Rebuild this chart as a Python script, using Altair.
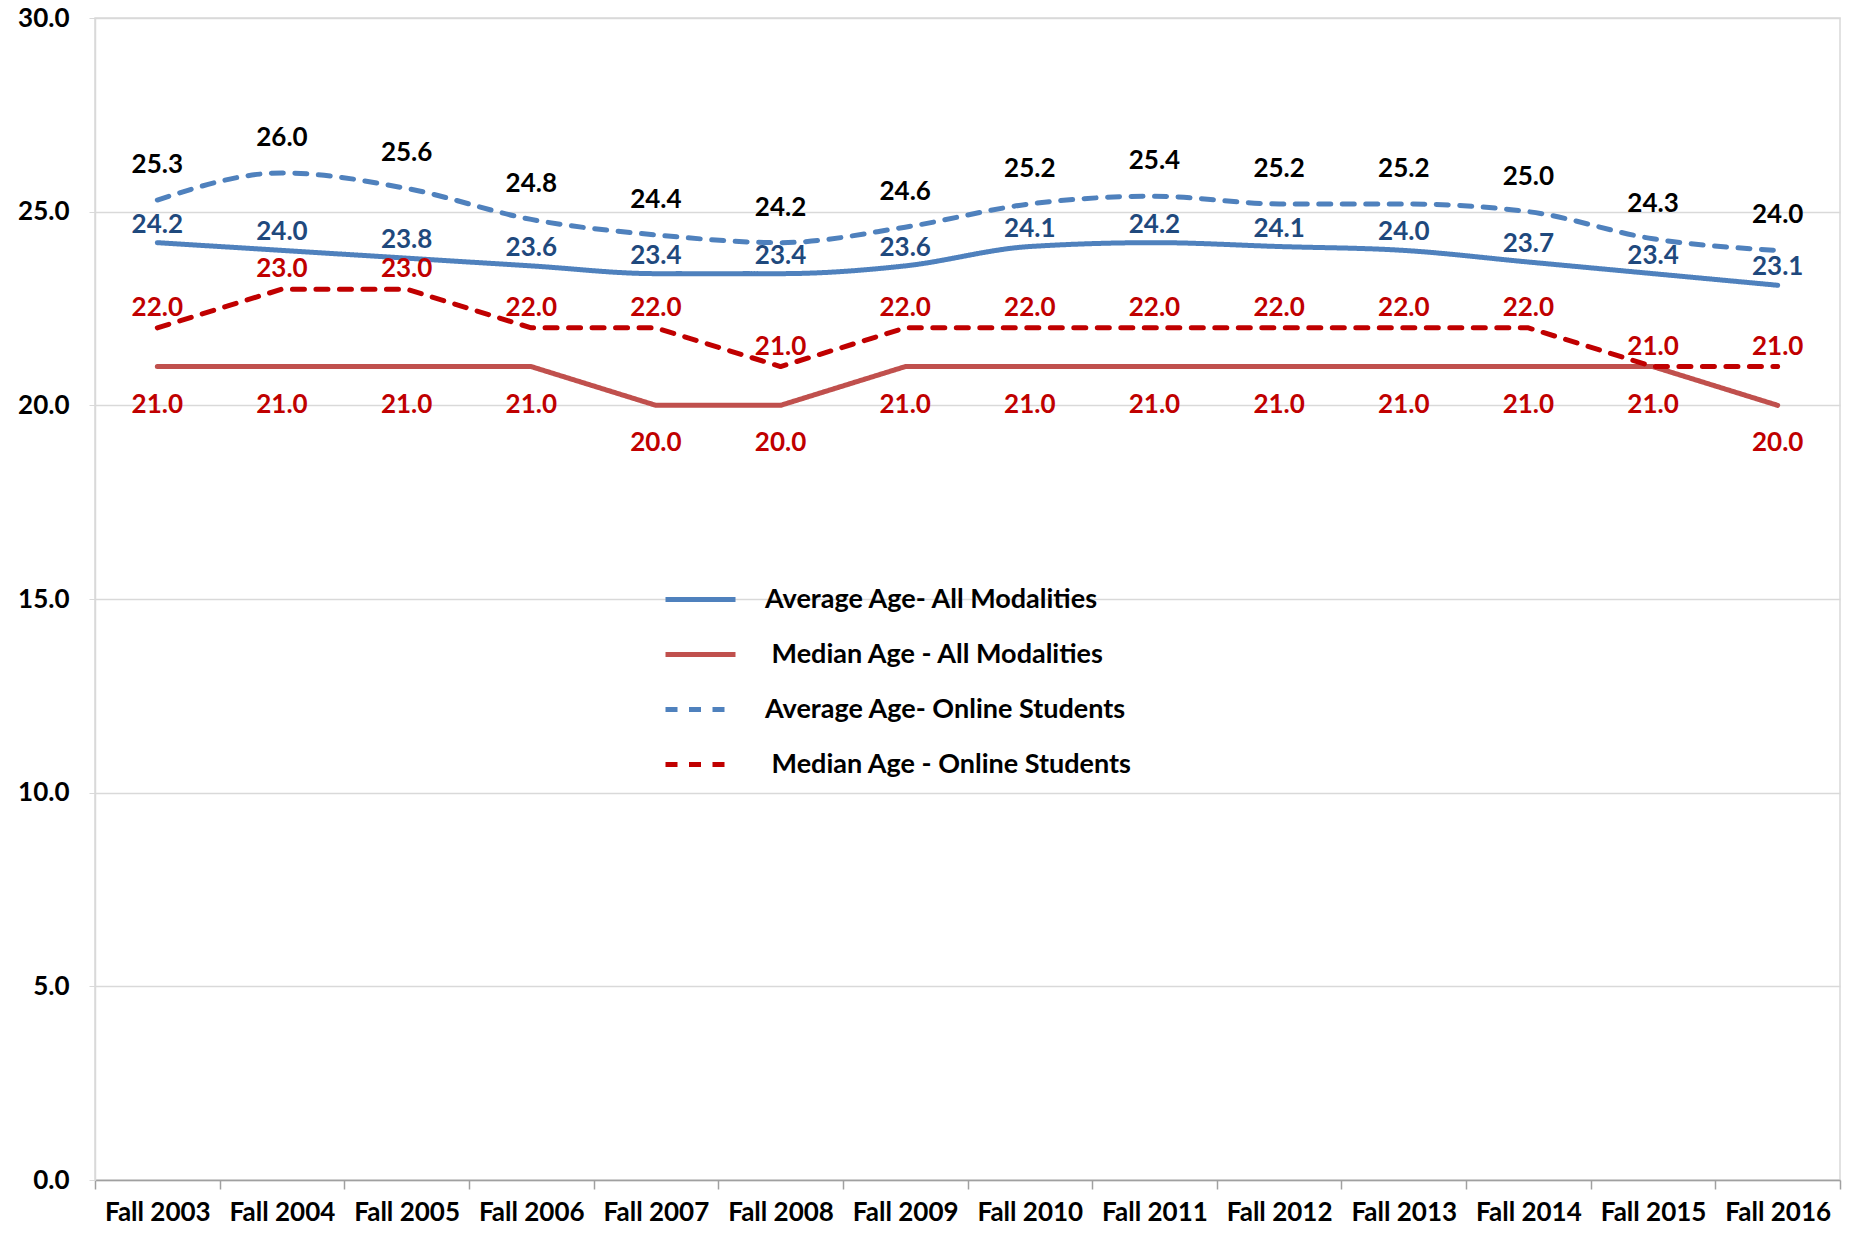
import altair as alt
import pandas as pd

terms = ["Fall 2003", "Fall 2004", "Fall 2005", "Fall 2006", "Fall 2007", "Fall 2008", "Fall 2009",
         "Fall 2010", "Fall 2011", "Fall 2012", "Fall 2013", "Fall 2014", "Fall 2015", "Fall 2016"]
avg_all = [24.2, 24.0, 23.8, 23.6, 23.4, 23.4, 23.6, 24.1, 24.2, 24.1, 24.0, 23.7, 23.4, 23.1]
median_all = [21.0, 21.0, 21.0, 21.0, 20.0, 20.0, 21.0, 21.0, 21.0, 21.0, 21.0, 21.0, 21.0, 20.0]
avg_online = [25.3, 26.0, 25.6, 24.8, 24.4, 24.2, 24.6, 25.2, 25.4, 25.2, 25.2, 25.0, 24.3, 24.0]
median_online = [22.0, 23.0, 23.0, 22.0, 22.0, 21.0, 22.0, 22.0, 22.0, 22.0, 22.0, 22.0, 21.0, 21.0]

series_names = ["Average Age- All Modalities", "\u200b\u00a0Median Age - All Modalities",
                "Average Age- Online Students", "\u200b\u00a0Median Age - Online Students"]
series_values = [avg_all, median_all, avg_online, median_online]

line_colors = ["#4F81BD", "#C0504D", "#4F81BD", "#C00000"]
dash_styles = [[1, 0], [1, 0], [12, 11.5], [12, 11.5]]
label_colors = ["#1F497D", "#C00000", "#000000", "#C00000"]
label_dy = [-18, 38, -35, -20]
smooth_series = [series_names[0], series_names[2]]

rows = []
for name, vals in zip(series_names, series_values):
    for t, v in zip(terms, vals):
        rows.append({"term": t, "series": name, "value": v})
df = pd.DataFrame(rows)

FONT = "Lato"
FS = 26

x_enc = alt.X("term:N", sort=terms,
              scale=alt.Scale(type="band", paddingInner=0, paddingOuter=0),
              axis=alt.Axis(title=None, labelAngle=0, tickBand="extent", domainColor="#A0A0A0",
                            domainWidth=1.5, tickColor="#A0A0A0", tickWidth=1.5, tickSize=9,
                            labelPadding=10, labelFont=FONT, labelFontSize=FS,
                            labelFontWeight="bold", labelColor="#000000", grid=False))
y_enc = alt.Y("value:Q", scale=alt.Scale(domain=[0, 30], nice=False),
              axis=alt.Axis(title=None, values=[0, 5, 10, 15, 20, 25, 30], format=".1f",
                            grid=True, gridColor="#D9D9D9", gridWidth=1.5,
                            domainColor="#D9D9D9", domainWidth=1.5, tickColor="#D9D9D9",
                            tickSize=6, labelPadding=20, labelFont=FONT, labelFontSize=FS,
                            labelFontWeight="bold", labelColor="#000000"))

legend = alt.Legend(title=None, orient="none", legendX=578, legendY=554,
                    symbolType="M-1.4,0H1.4", symbolSize=2500, symbolStrokeWidth=5,
                    labelFont=FONT, labelFontSize=27, labelFontWeight="bold",
                    labelColor="#000000", labelOffset=37, rowPadding=14, labelLimit=0)

color_enc = alt.Color("series:N", scale=alt.Scale(domain=series_names, range=line_colors), legend=legend)
dash_enc = alt.StrokeDash("series:N", scale=alt.Scale(domain=series_names, range=dash_styles), legend=legend)

smooth_lines = alt.Chart(df).transform_filter(
    alt.FieldOneOfPredicate(field="series", oneOf=smooth_series)
).mark_line(strokeWidth=5, interpolate="monotone", strokeCap="round").encode(
    x=x_enc, y=y_enc, color=color_enc, strokeDash=dash_enc,
)
straight_lines = alt.Chart(df).transform_filter(
    ~alt.FieldOneOfPredicate(field="series", oneOf=smooth_series)
).mark_line(strokeWidth=5, interpolate="linear", strokeCap="round", strokeJoin="round").encode(
    x=x_enc, y=y_enc, color=color_enc, strokeDash=dash_enc,
)

layers = [straight_lines, smooth_lines]
for i, name in enumerate(series_names):
    layers.append(
        alt.Chart(df).transform_filter(alt.datum.series == name).mark_text(
            dy=label_dy[i], color=label_colors[i], font=FONT, fontSize=FS, fontWeight="bold"
        ).encode(x=x_enc, y=y_enc, text=alt.Text("value:Q", format=".1f"))
    )

chart = alt.layer(*layers).properties(
    width=1745, height=1162, autosize="none",
    padding={"left": 87, "top": 10, "right": 2, "bottom": 46},
).configure_view(stroke="#D9D9D9", strokeWidth=1.5)

chart.save("out.html", embed_options={"renderer": "svg", "actions": False})
